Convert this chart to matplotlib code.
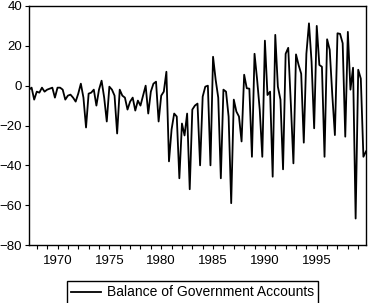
import numpy as np
import pandas as pd
import matplotlib
matplotlib.use("Agg")
import matplotlib.pyplot as plt

# ----------------------------
# データ (四半期, 1967Q2 - 1999Q4)
# ----------------------------
start_year = 1967.25
balance = [
    -2, -1, -7, -3, -3.5, -1, -3, -2, -1.5, -1,
    -6, -1, -1, -2, -7, -5, -4.5, -6, -8, -4,
    1, -6, -21, -4, -3.5, -2, -10, -2, 2.5, -6,
    -18, -0.5, -2, -5, -24, -2, -5, -6, -12, -8,
    -6, -12.5, -7.5, -10, -5, 0, -14, -3, 1, 2,
    -18, -5, -3, 7, -38, -22, -14, -15.5, -46.5, -19,
    -25, -14, -52, -12, -10, -9, -40, -5.5, -0.5, 0,
    -40, 14.5, 3, -6, -46.5, -2, -3, -15.5, -59, -7,
    -13, -15.5, -28, 5.5, -1.3, -1.5, -35.7, 16, 3, -12,
    -35.7, 22.6, -4.7, -3, -45.7, 25.5, -0.5, -7, -42, 16,
    19, -9, -39, 15.7, 10.4, 6, -28.6, 16, 31.3, 12,
    -21.4, 30, 10.4, 9.5, -35.7, 23.3, 18, -4.7, -24.8, 26.3,
    26, 21.3, -25.6, 27, -2, 9, -66.7, 8, 3.5, -35.7,
    -33,
]
label_years = [1970, 1975, 1980, 1985, 1990, 1995]
y_ticks = [-80, -60, -40, -20, 0, 20, 40]

x = start_year + 0.25 * np.arange(len(balance))

plt.rcParams["font.family"] = ["Liberation Sans", "DejaVu Sans"]

fig = plt.figure(figsize=(3.69, 3.03), dpi=100)
ax = fig.add_axes([29 / 369, 1 - 245 / 303, 337 / 369, 239 / 303])

line, = ax.plot(x, balance, color="black", linewidth=1.3)

ax.set_xlim(x[0], x[-1])
ax.set_ylim(-80, 40)
ax.set_yticks(y_ticks)
ax.set_xticks(label_years)
ax.set_xticks(np.arange(1968, 2000), minor=True)
ax.tick_params(axis="both", which="both", direction="out", length=3, width=0.8,
               labelsize=9.5, top=False, right=False, pad=2)
ax.tick_params(axis="x", pad=4)
for s in ax.spines.values():
    s.set_linewidth(1.0)

fig.legend([line], ["Balance of Government Accounts"], loc="center",
           bbox_to_anchor=(192.5 / 369, 1 - 292.5 / 303), fontsize=10,
           fancybox=False, edgecolor="black", framealpha=1, handlelength=2.2,
           borderpad=0.3, handletextpad=0.4)

plt.savefig("out.png", dpi=100)
